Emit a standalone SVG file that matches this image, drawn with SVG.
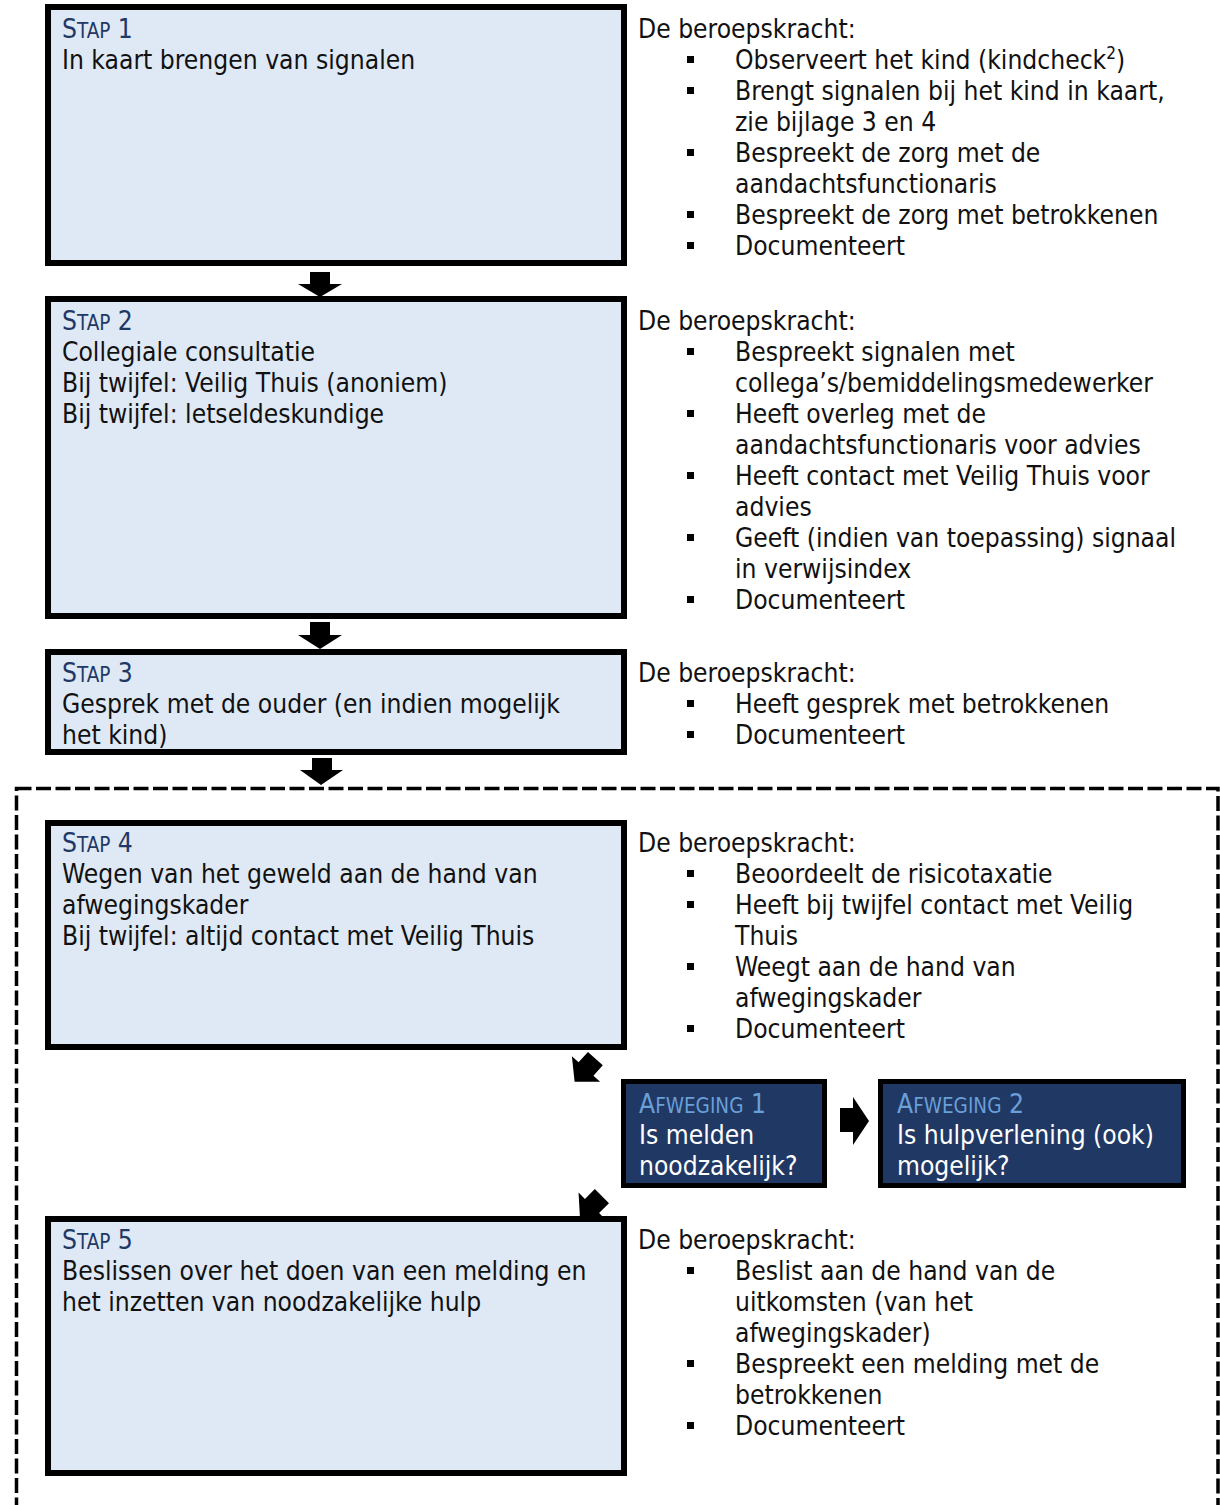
<svg xmlns="http://www.w3.org/2000/svg" width="1220" height="1505" viewBox="0 0 1220 1505">
<style>
text{font-family:"DejaVu Sans Condensed","DejaVu Sans",sans-serif;font-size:26.2px;fill:#111;}
.box{fill:#dee9f5;stroke:#000;stroke-width:6;}
.dark{fill:#203864;stroke:#000;stroke-width:5;}
.ttl{fill:#1f3864;}
.sc{font-size:20.5px;}
.at{fill:#6a9fd8;}
.wt{fill:#ffffff;}
.arr{fill:#000;}
.bul{fill:#000;}
.dash{fill:none;stroke:#000;stroke-width:3.5;stroke-dasharray:15 4.5;}
</style>
<defs>
<polygon id="darr" points="-10,-14 10,-14 10,0 19,0 0,17 -19,0 -10,0"/>
<rect id="b" width="7" height="7"/>
</defs>
<rect class="dash" x="16.5" y="788.5" width="1201.5" height="740"/>
<g id="connectors">
<polygon class="arr" points="310,272 330,272 330,284 342,284 320,297 298,284 310,284"/>
<polygon class="arr" points="310,622 330,622 330,635 342,635 320,649 298,635 310,635"/>
<polygon class="arr" points="312,758 332,758 332,770 343,770 321,785 300,770 312,770"/>
<use href="#darr" class="arr" transform="translate(586,1069) rotate(42)"/>
<use href="#darr" class="arr" transform="translate(592,1206) rotate(45)"/>
<polygon class="arr" points="840,1108 853,1108 853,1097 869,1121 853,1145 853,1132 840,1132"/>
</g>
<g id="stap1">
<rect class="box" x="48" y="7" width="576" height="256"/>
<text x="62" y="38" class="ttl">S<tspan class="sc">TAP</tspan> 1</text>
<text x="62" y="69">In kaart brengen van signalen</text>
</g>
<g id="stap1-info">
<text x="638" y="38">De beroepskracht:</text>
<use href="#b" x="687" y="56" class="bul"/>
<text x="735" y="69">Observeert het kind (kindcheck<tspan font-size="17" dy="-10">2</tspan><tspan dy="10">)</tspan></text>
<use href="#b" x="687" y="87" class="bul"/>
<text x="735" y="100">Brengt signalen bij het kind in kaart,</text>
<text x="735" y="131">zie bijlage 3 en 4</text>
<use href="#b" x="687" y="149" class="bul"/>
<text x="735" y="162">Bespreekt de zorg met de</text>
<text x="735" y="193">aandachtsfunctionaris</text>
<use href="#b" x="687" y="211" class="bul"/>
<text x="735" y="224">Bespreekt de zorg met betrokkenen</text>
<use href="#b" x="687" y="242" class="bul"/>
<text x="735" y="255">Documenteert</text>
</g>
<g id="stap2">
<rect class="box" x="48" y="299" width="576" height="317"/>
<text x="62" y="330" class="ttl">S<tspan class="sc">TAP</tspan> 2</text>
<text x="62" y="361">Collegiale consultatie</text>
<text x="62" y="392">Bij twijfel: Veilig Thuis (anoniem)</text>
<text x="62" y="423">Bij twijfel: letseldeskundige</text>
</g>
<g id="stap2-info">
<text x="638" y="330">De beroepskracht:</text>
<use href="#b" x="687" y="348" class="bul"/>
<text x="735" y="361">Bespreekt signalen met</text>
<text x="735" y="392">collega’s/bemiddelingsmedewerker</text>
<use href="#b" x="687" y="410" class="bul"/>
<text x="735" y="423">Heeft overleg met de</text>
<text x="735" y="454">aandachtsfunctionaris voor advies</text>
<use href="#b" x="687" y="472" class="bul"/>
<text x="735" y="485">Heeft contact met Veilig Thuis voor</text>
<text x="735" y="516">advies</text>
<use href="#b" x="687" y="534" class="bul"/>
<text x="735" y="547">Geeft (indien van toepassing) signaal</text>
<text x="735" y="578">in verwijsindex</text>
<use href="#b" x="687" y="596" class="bul"/>
<text x="735" y="609">Documenteert</text>
</g>
<g id="stap3">
<rect class="box" x="48" y="652" width="576" height="100"/>
<text x="62" y="682" class="ttl">S<tspan class="sc">TAP</tspan> 3</text>
<text x="62" y="713">Gesprek met de ouder (en indien mogelijk</text>
<text x="62" y="744">het kind)</text>
</g>
<g id="stap3-info">
<text x="638" y="682">De beroepskracht:</text>
<use href="#b" x="687" y="700" class="bul"/>
<text x="735" y="713">Heeft gesprek met betrokkenen</text>
<use href="#b" x="687" y="731" class="bul"/>
<text x="735" y="744">Documenteert</text>
</g>
<g id="stap4">
<rect class="box" x="48" y="823" width="576" height="224"/>
<text x="62" y="852" class="ttl">S<tspan class="sc">TAP</tspan> 4</text>
<text x="62" y="883">Wegen van het geweld aan de hand van</text>
<text x="62" y="914">afwegingskader</text>
<text x="62" y="945">Bij twijfel: altijd contact met Veilig Thuis</text>
</g>
<g id="stap4-info">
<text x="638" y="852">De beroepskracht:</text>
<use href="#b" x="687" y="870" class="bul"/>
<text x="735" y="883">Beoordeelt de risicotaxatie</text>
<use href="#b" x="687" y="901" class="bul"/>
<text x="735" y="914">Heeft bij twijfel contact met Veilig</text>
<text x="735" y="945">Thuis</text>
<use href="#b" x="687" y="963" class="bul"/>
<text x="735" y="976">Weegt aan de hand van</text>
<text x="735" y="1007">afwegingskader</text>
<use href="#b" x="687" y="1025" class="bul"/>
<text x="735" y="1038">Documenteert</text>
</g>
<g id="afweging1">
<rect class="dark" x="623.5" y="1081.5" width="201" height="104"/>
<text x="639" y="1113" class="at">A<tspan class="sc">FWEGING</tspan> 1</text>
<text x="639" y="1144" class="wt">Is melden</text>
<text x="639" y="1175" class="wt">noodzakelijk?</text>
</g>
<g id="afweging2">
<rect class="dark" x="880.5" y="1081.5" width="303" height="104"/>
<text x="897" y="1113" class="at">A<tspan class="sc">FWEGING</tspan> 2</text>
<text x="897" y="1144" class="wt">Is hulpverlening (ook)</text>
<text x="897" y="1175" class="wt">mogelijk?</text>
</g>
<g id="stap5">
<rect class="box" x="48" y="1219" width="576" height="254"/>
<text x="62" y="1249" class="ttl">S<tspan class="sc">TAP</tspan> 5</text>
<text x="62" y="1280">Beslissen over het doen van een melding en</text>
<text x="62" y="1311">het inzetten van noodzakelijke hulp</text>
</g>
<g id="stap5-info">
<text x="638" y="1249">De beroepskracht:</text>
<use href="#b" x="687" y="1267" class="bul"/>
<text x="735" y="1280">Beslist aan de hand van de</text>
<text x="735" y="1311">uitkomsten (van het</text>
<text x="735" y="1342">afwegingskader)</text>
<use href="#b" x="687" y="1360" class="bul"/>
<text x="735" y="1373">Bespreekt een melding met de</text>
<text x="735" y="1404">betrokkenen</text>
<use href="#b" x="687" y="1422" class="bul"/>
<text x="735" y="1435">Documenteert</text>
</g>
</svg>
